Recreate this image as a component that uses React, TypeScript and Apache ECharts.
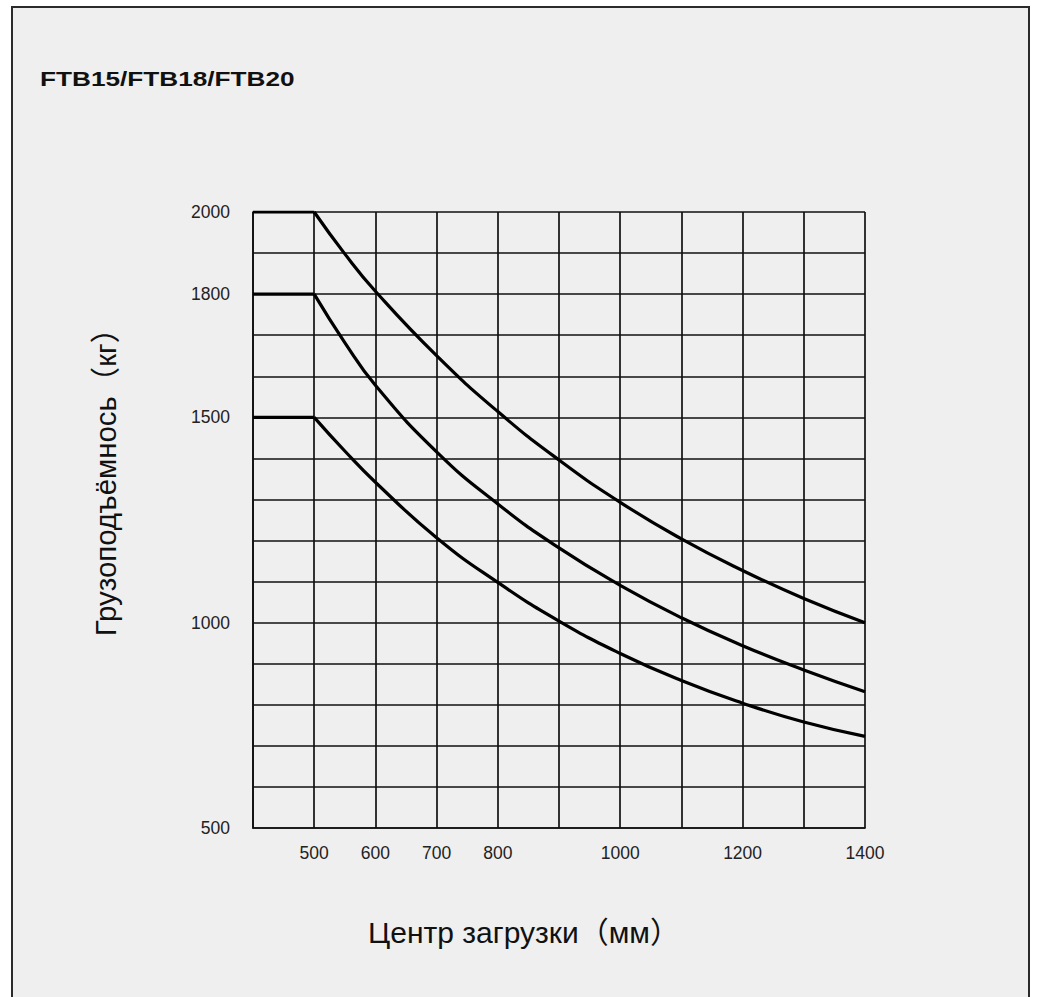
import React, { useEffect, useRef } from "react";
import * as echarts from "echarts";

const titleText = "FTB15/FTB18/FTB20";
const xAxisName = "Центр загрузки（мм）";
const yAxisName = "Грузоподъёмнось（кг）";

const loadCenters = [400, 500, 550, 600, 700, 800, 900, 1000, 1100, 1200, 1300, 1400];
const capacityFTB20 = [2000, 2000, 1898, 1807, 1650, 1514, 1396, 1293, 1204, 1127, 1059, 1000];
const capacityFTB18 = [1800, 1800, 1682, 1578, 1416, 1289, 1182, 1091, 1012, 944, 885, 832];
const capacityFTB15 = [1500, 1500, 1418, 1342, 1207, 1098, 1004, 925, 859, 804, 758, 723];

const xTickLabels = [500, 600, 700, 800, 1000, 1200, 1400];
const yTickLabels = [500, 1000, 1500, 1800, 2000];

const FONT = '"Liberation Sans", Arial, "Noto Sans CJK SC", sans-serif';

function pairs(ys: number[], from: number, to: number) {
  const out: number[][] = [];
  for (let i = from; i <= to; i++) out.push([loadCenters[i], ys[i]]);
  return out;
}

export default function App() {
  const ref = useRef<HTMLDivElement>(null);

  useEffect(() => {
    if (!ref.current) return;
    const chart = echarts.init(ref.current, null, { renderer: "svg" });
    const gridLine = { color: "#111", width: 1.7 };
    const curves = [capacityFTB20, capacityFTB18, capacityFTB15];
    const series: any[] = [];
    curves.forEach((c, k) => {
      series.push({
        type: "line",
        name: "flat" + k,
        data: pairs(c, 0, 1),
        showSymbol: false,
        symbol: "none",
        lineStyle: { color: "#000", width: 3.2 },
      });
      series.push({
        type: "line",
        name: "curve" + k,
        data: pairs(c, 1, c.length - 1),
        smooth: 0.5,
        showSymbol: false,
        symbol: "none",
        lineStyle: { color: "#000", width: 3.2 },
      });
    });

    chart.setOption({
      animation: false,
      backgroundColor: "transparent",
      textStyle: { fontFamily: FONT },
      grid: { left: 253, right: 180, top: 212, bottom: 169, containLabel: false },
      xAxis: {
        type: "value",
        min: 400,
        max: 1400,
        interval: 100,
        axisLine: { show: true, lineStyle: gridLine },
        axisTick: { show: false },
        splitLine: { show: true, lineStyle: gridLine },
        axisLabel: {
          margin: 16,
          fontSize: 17.5,
          color: "#222",
          fontFamily: FONT,
          showMinLabel: true,
          showMaxLabel: true,
          formatter: (v: number) => (xTickLabels.includes(v) ? String(v) : ""),
        },
      },
      yAxis: {
        type: "value",
        min: 500,
        max: 2000,
        interval: 100,
        axisLine: { show: true, lineStyle: gridLine },
        axisTick: { show: false },
        splitLine: { show: true, lineStyle: gridLine },
        axisLabel: {
          margin: 23,
          fontSize: 17.5,
          color: "#222",
          fontFamily: FONT,
          showMinLabel: true,
          showMaxLabel: true,
          formatter: (v: number) => (yTickLabels.includes(v) ? String(v) : ""),
        },
      },
      graphic: [
        {
          type: "text",
          x: 40,
          y: 79,
          scaleX: 1.31,
          style: {
            text: titleText,
            fontFamily: FONT,
            fontSize: 20,
            fontWeight: "bold",
            fill: "#111",
            align: "left",
            verticalAlign: "middle",
          },
        },
        {
          type: "text",
          x: 105,
          y: 475,
          rotation: Math.PI / 2,
          scaleX: 0.98,
          style: {
            text: yAxisName,
            fontFamily: FONT,
            fontSize: 30,
            fill: "#111",
            align: "center",
            verticalAlign: "middle",
          },
        },
        {
          type: "text",
          x: 524,
          y: 932,
          style: {
            text: xAxisName,
            fontFamily: FONT,
            fontSize: 30,
            fill: "#111",
            align: "center",
            verticalAlign: "middle",
          },
        },
      ],
      series,
    });
    return () => chart.dispose();
  }, []);

  return (
    <div>
      <div
        style={{
          position: "fixed",
          left: 11,
          top: 6,
          width: 1019,
          height: 1100,
          boxSizing: "border-box",
          border: "2px solid #2b2b2b",
          background: "#efefef",
        }}
      />
      <div
        ref={ref}
        style={{ position: "fixed", left: 0, top: 0, width: 1045, height: 997 }}
      />
    </div>
  );
}
